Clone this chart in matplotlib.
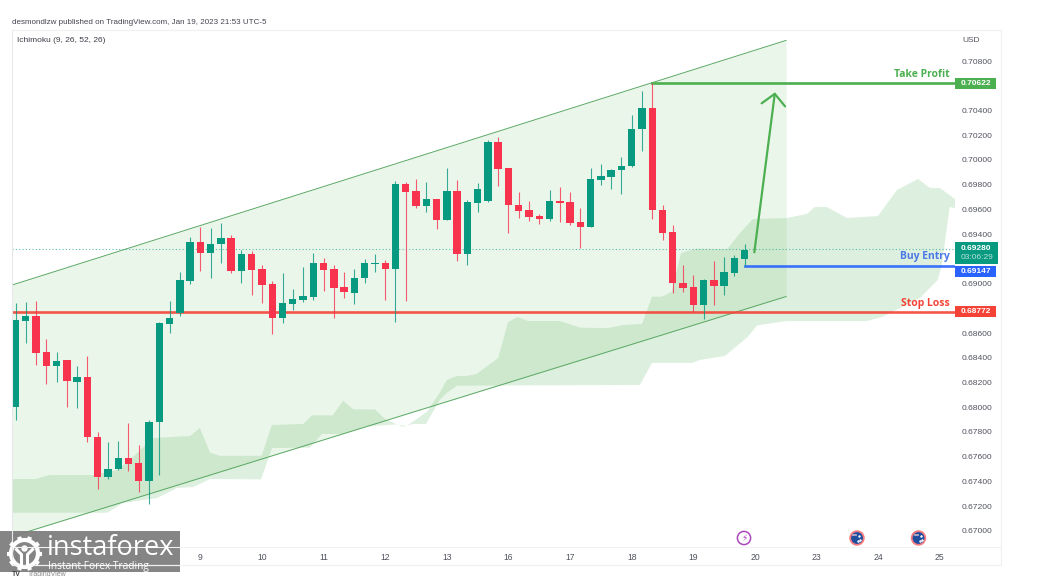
import numpy as np
import matplotlib
matplotlib.use('Agg')
import matplotlib.pyplot as plt
from matplotlib.patches import Rectangle, Circle

# candles, 4h bars
opens = [.68001, .68697, .68740, .68447, .68335, .68379, .68204, .68242, .67761, .67437, .67498, .67589,
         .67548, .67400, .67878, .68675, .68764, .69023, .69339, .69250, .69320, .69369, .69104, .69239,
         .69115, .68994, .68724, .68835, .68867, .68894, .69164, .69115, .68972, .68926, .69045, .69158,
         .69164, .69115, .69805, .69746, .69630, .69682, .69514, .69751, .69237, .69654, .69665, .70145,
         .69932, .69636, .69593, .69544, .69522, .69668, .69660, .69498, .69460, .69838, .69865, .69919,
         .69951, .70248, .70420, .69595, .69415, .69004, .68972, .68824, .69029, .68983, .69088, .69201]
highs = [.68840, .68851, .68859, .68551, .68447, .68385, .68332, .68412, .67797, .67716, .67730, .67870,
         .67694, .67896, .68685, .68859, .69093, .69374, .69460, .69447, .69492, .69390, .69272, .69264,
         .69150, .69021, .69083, .68956, .69136, .69250, .69207, .69150, .69093, .69118, .69199, .69239,
         .69188, .69832, .69819, .69843, .69821, .69685, .69937, .69838, .69676, .69810, .70161, .70183,
         .69935, .69741, .69668, .69560, .69757, .69781, .69741, .69611, .69935, .69967, .69927, .70021,
         .70363, .70555, .70625, .69633, .69474, .69150, .69067, .69035, .69185, .69217, .69229, .69320]
lows = [.67896, .68522, .68340, .68188, .68204, .67999, .67993, .67721, .67338, .67419, .67492, .67484,
        .67314, .67214, .67451, .68603, .68738, .68996, .69104, .69048, .69164, .69083, .69007, .68905,
        .68845, .68592, .68683, .68786, .68853, .68867, .68940, .68724, .68886, .68837, .69004, .69093,
        .68867, .68689, .68859, .69609, .69579, .69441, .69514, .69185, .69147, .69579, .69660, .69792,
        .69406, .69530, .69506, .69482, .69509, .69498, .69474, .69288, .69455, .69797, .69765, .69724,
        .69941, .70075, .69522, .69352, .68927, .68932, .68772, .68716, .68824, .68905, .69061, .69142]
closes = [.68703, .68740, .68441, .68335, .68375, .68209, .68242, .67761, .67437, .67502, .67589, .67540,
          .67400, .67878, .68681, .68719, .69026, .69339, .69250, .69320, .69369, .69104, .69239, .69112,
          .68991, .68724, .68840, .68873, .68899, .69164, .69110, .68966, .68929, .69047, .69164, .69164,
          .69115, .69805, .69741, .69630, .69682, .69514, .69751, .69237, .69660, .69762, .70145, .69929,
          .69633, .69587, .69541, .69522, .69668, .69652, .69492, .69460, .69846, .69868, .69921, .69954,
          .70250, .70420, .69595, .69412, .69001, .68966, .68824, .69029, .68983, .69093, .69207, .69269]

# ichimoku cloud edges: bar position, price
cloud_top_x = [-.34, 1.9, 3.36, 7.55, 9.98, 11.44, 13.39, 17, 17.96, 18.94, 19.9, 23.97, 24.95, 28, 28.87, 30.9,
               31.9, 32.9, 35, 36, 37.15, 38.1, 38.7, 40.07, 41.3, 42, 43, 43.96, 44.9, 47, 47.96, 48.9, 49.9,
               53, 55, 57.7, 59.15, 61, 61.98, 62.95, 63.9, 64.8, 66.35, 69.3, 70.55, 71.8, 75.1, 77.06, 77.84,
               79, 80.96, 83.98, 85.83, 87.87, 89.05, 90, 91.48]
cloud_top = [.67419, .67419, .67451, .67451, .67492, .67597, .67751, .67767, .67832, .67632, .67607, .67607,
             .67856, .67864, .67934, .67934, .68052, .67982, .67982, .67904, .67861, .67848, .67883, .67964,
             .68115, .68220, .68253, .68253, .68269, .68398, .68689, .68729, .68697, .68697, .68643, .68640,
             .68665, .68673, .68894, .68894, .68934, .69247, .69283, .69279, .69409, .69522, .69530, .69563,
             .69619, .69619, .69530, .69546, .69757, .69846, .69773, .69773, .69684]
cloud_bottom_x = [-.34, 8.9, 10.47, 13.78, 15.73, 17.3, 18.94, 23.9, 24.98, 28.67, 29.84, 31.9, 34, 36.17, 37.15,
                  37.73, 38.7, 39.97, 41.3, 42, 43, 60.8, 61.98, 65.87, 66.65, 69.08, 71.3, 72.2, 75.1, 82.9,
                  84.37, 88.07, 89.8, 90.2, 90.96, 91.48]
cloud_bottom = [.67146, .67146, .67225, .67265, .67346, .67354, .67419, .67416, .67670, .67672, .67783, .67783,
                .67842, .67856, .67861, .67842, .67864, .67864, .68058, .68115, .68174, .68180, .68358, .68358,
                .68382, .68414, .68568, .68661, .68697, .68697, .68729, .68883, .69029, .69150, .69619, .69611]

# channel
channel_x = [-.34, 75.03]
channel_upper = [.68988, .70967]
channel_lower = [.66954, .68895]

# levels
take_profit = .70622
buy_entry = .69147
stop_loss = .68772
last_price = .69280
countdown = '03:06:29'

price_ticks = [.670 + .002 * i for i in range(20)]
day_pos = [0, 6, 12, 18, 24, 30, 36, 42, 48, 54, 60, 66, 72, 78, 84, 90]
day_labels = ['4', '5', '6', '9', '10', '11', '12', '13', '16', '17', '18', '19', '20', '23', '24', '25']

# arrow, bar position and price
arrow_start = (71.94, .69253)
arrow_end = (73.95, .70547)

green = '#089981'
red = '#f7334d'
lev_green = '#4caf50'
lev_blue = '#2962ff'
lev_red = '#f44336'
font = 'Liberation Sans'

fig = plt.figure(figsize=(10.38, 5.76), dpi=100)
W, H = 1038, 576
ax = fig.add_axes([12 / W, 1 - 547 / H, 943 / W, 517 / H])
ax.set_xlim(-.341, 91.48)
ax.set_ylim(.66869, .71051)
for s in ax.spines.values():
    s.set_visible(False)

px_y = (.71051 - .66869) / 517

# channel + cloud
ax.fill_between(channel_x, channel_lower, channel_upper, color=lev_green, alpha=.11, lw=0, zorder=1)
ax.plot(channel_x, channel_upper, color='#5aa864', lw=.7, zorder=2)
ax.plot(channel_x, channel_lower, color='#5aa864', lw=.7, zorder=2)
ax.fill(cloud_top_x + cloud_bottom_x[::-1], cloud_top + cloud_bottom[::-1], color=lev_green, alpha=.19, lw=0, zorder=1.5)

# levels
ax.axhline(last_price, color='#3db39e', lw=.8, ls=(0, (1, 2)), alpha=.85, zorder=2)
ax.axhline(stop_loss, color=lev_red, lw=1.9, alpha=.9, zorder=2.5)
ax.plot([62, 91.48], [take_profit, take_profit], color=lev_green, lw=1.9, zorder=2.5)
# the buy line sits a pixel under its quoted price in the picture
ax.plot([71, 91.48], [buy_entry - px_y, buy_entry - px_y], color=lev_blue, lw=1.9, alpha=.9, zorder=2.5)

# candles
idx = np.arange(len(opens))
o, h, l, c = map(np.array, (opens, highs, lows, closes))
colors = [green if c[i] >= o[i] else red for i in idx]
ax.vlines(idx, l, h, colors=colors, lw=.8, alpha=.8, zorder=3)
ax.bar(idx, np.maximum(np.abs(c - o), .00004), bottom=np.minimum(o, c), width=.72, color=colors, lw=0, zorder=4)

ax.annotate('', xy=arrow_end, xytext=arrow_start, zorder=5,
            arrowprops=dict(arrowstyle='->,head_length=.8,head_width=.85', color=lev_green, lw=1.6,
                            shrinkA=0, shrinkB=0))

# axes
ax.yaxis.tick_right()
ax.set_yticks(price_ticks)
ax.set_yticklabels(['%.5f' % p for p in price_ticks], fontsize=6.1, color='#50535e', family=font)
ax.set_xticks(day_pos)
ax.set_xticklabels(day_labels, fontsize=6.2, color='#50535e', family=font)
ax.tick_params(axis='y', length=0, pad=5)
ax.tick_params(axis='x', length=0, pad=4.6)

# price tags on the axis
yt = ax.get_yaxis_transform()
tag_w = 40.5 / 943
def tag(price, col, text, shift=0, up=5.5, down=5.5, width=tag_w):
    y = price + shift * px_y
    ax.add_patch(Rectangle((1, y - down * px_y), width, (up + down) * px_y, transform=yt, color=col, lw=0,
                           clip_on=False, zorder=6))
    ax.text(1 + 5.5 / 943, y, text, transform=yt, color='white', fontsize=6, family=font, fontweight='bold',
            va='center', ha='left', zorder=7, clip_on=False)

tag(take_profit, lev_green, '%.5f' % take_profit)
tag(last_price, green, '%.5f' % last_price, up=6.5, down=15, width=43 / 943)
ax.text(1 + 5.5 / 943, last_price - 9 * px_y, countdown, transform=yt, color='#b5e3d8', fontsize=6, family=font,
        va='center', ha='left', zorder=7, clip_on=False)
tag(buy_entry, lev_blue, '%.5f' % buy_entry, shift=-6)
tag(stop_loss, lev_red, '%.5f' % stop_loss)

for txt, price, col in [('Take Profit', take_profit, lev_green), ('Buy Entry', buy_entry, '#4a78e8'),
                        ('Stop Loss', stop_loss, lev_red)]:
    ax.text(1 - 5 / 943, price + 3 * px_y, txt, transform=yt, color=col, fontsize=7.5, family='Open Sans',
            fontweight='bold', ha='right', va='bottom', zorder=7)

# frame, header, logo on a pixel overlay
ov = fig.add_axes([0, 0, 1, 1], zorder=10)
ov.set_xlim(0, W)
ov.set_ylim(H, 0)
ov.axis('off')
ov.plot([12, 12], [30, 565], color='#e6e8ec', lw=.8)
ov.plot([12, 1001, 1001, 12], [30, 30, 565, 565], color='#f0f1f3', lw=.9)
ov.plot([12, 1001], [547, 547], color='#f0f1f3', lw=.8)

ov.text(12, 22, 'desmondlzw published on TradingView.com, Jan 19, 2023 21:53 UTC-5', fontsize=5.8, color='#444650',
        family=font, va='center')
ov.text(17, 40, 'Ichimoku (9, 26, 52, 26)', fontsize=6, color='#3a3d46', family=font, va='center')
ov.text(962, 40, 'USD', fontsize=6, color='#50535e', family=font, va='center')

# event icons
ov.add_patch(Circle((744, 538), 6.6, fc='white', ec='#ab47bc', lw=1.1))
ov.text(744, 538, '\u26a1', fontsize=6.5, color='#ab47bc', family='DejaVu Sans', ha='center', va='center')
for ex in (857, 918.5):
    ov.add_patch(Circle((ex, 538), 6.8, fc='#1f4e9e', ec='#f77c80', lw=1.3))
    ov.plot([ex - 4, ex - 1], [535, 535], color='#c9b8c8', lw=1.2)
    ov.plot([ex + 2, ex + 3, ex + 1], [536, 540, 541], ls='', marker='.', ms=1.5, color='white')

# watermark
ov.text(12, 578, 'TV', fontsize=5, color='#444444', family=font, fontweight='bold', va='bottom')
ov.text(28, 578, 'TradingView', fontsize=5, color='#888888', family=font, va='bottom')
ov.add_patch(Rectangle((0, 531), 180, 40.5, fc='#7f7f7f', ec='none', alpha=.95))
ov.text(47, 548, 'instaforex', fontsize=19.5, color='white', family='Open Sans', va='center', ha='left')
ov.text(48, 566, 'Instant Forex Trading', fontsize=7.3, color='white', family='Open Sans', va='center', ha='left')
gx, gy = 24.5, 553.5
ov.add_patch(Circle((gx, gy), 13.5, fc='none', ec='white', lw=3))
for ang in np.linspace(0, 2 * np.pi, 11)[:-1]:
    ov.plot([gx + 13 * np.cos(ang), gx + 17.5 * np.cos(ang)], [gy + 13 * np.sin(ang), gy + 17.5 * np.sin(ang)],
            color='white', lw=3, solid_capstyle='butt')
ov.add_patch(Circle((gx, gy - 5), 3.2, fc='white', ec='none'))
ov.plot([gx - 8, gx - 3, gx - 3], [gy - 4, gy + 1, gy + 12], color='white', lw=2.2)
ov.plot([gx + 8, gx + 3, gx + 3], [gy - 4, gy + 1, gy + 12], color='white', lw=2.2)

fig.savefig('out.png', dpi=100)
